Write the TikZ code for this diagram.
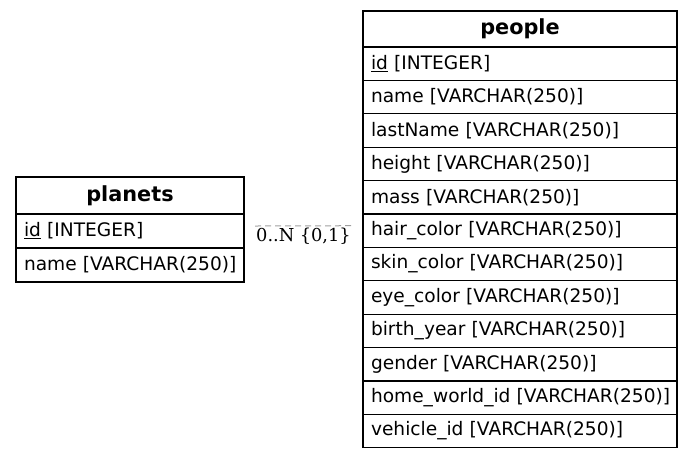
\documentclass[tikz,border=0pt]{standalone}
\usepackage{fontspec}
\setmainfont{DejaVu Sans}
\newfontfamily\cardfont{DejaVu Serif}
\usetikzlibrary{positioning}

\begin{document}
\begin{tikzpicture}[x=1pt,y=-1pt]
    \tikzset{tblhead/.style = {draw, line width=1.1pt, minimum height=#1, inner sep=0pt, outer sep=0pt,
            font=\fontsize{20.8}{22}\selectfont\bfseries}}
    \tikzset{tblrow/.style = {draw, line width=1.1pt, text width=#1, inner xsep=8pt, inner ysep=0pt,
            outer sep=0pt, align=left, font=\fontsize{18.6}{20}\selectfont,
            execute at begin node={\hbox\bgroup}, execute at end node={\egroup}}}
    \tikzset{card/.style = {inner sep=0pt, font=\cardfont\fontsize{17.8}{19}\selectfont}}

    \useasboundingbox (0,0) rectangle (692,459);

    % planets table
    \node[tblhead=37pt, minimum width=228pt, anchor=north west] (planets) at (16,177) {planets};
    \node[tblrow=212pt, minimum height=34pt, below=0pt of planets] (planets-id) {\underline{id} [INTEGER]};
    \node[tblrow=212pt, minimum height=34pt, below=0pt of planets-id] (planets-name) {name [VARCHAR(250)]};

    % people table
    \node[tblhead=36pt, minimum width=314pt, anchor=north west] (people) at (363,11) {people};
    \tikzset{prow/.style = {tblrow=298pt, minimum height=33.4pt}}
    \node[prow, below=0pt of people] (people-id) {\underline{id} [INTEGER]};
    \node[prow, below=0pt of people-id] (people-name) {name [VARCHAR(250)]};
    \node[prow, below=0pt of people-name] (people-lastname) {lastName [VARCHAR(250)]};
    \node[prow, below=0pt of people-lastname] (people-height) {height [VARCHAR(250)]};
    \node[prow, below=0pt of people-height] (people-mass) {mass [VARCHAR(250)]};
    \node[prow, below=0pt of people-mass] (people-hair) {hair\_color [VARCHAR(250)]};
    \node[prow, below=0pt of people-hair] (people-skin) {skin\_color [VARCHAR(250)]};
    \node[prow, below=0pt of people-skin] (people-eye) {eye\_color [VARCHAR(250)]};
    \node[prow, below=0pt of people-eye] (people-birth) {birth\_year [VARCHAR(250)]};
    \node[prow, below=0pt of people-birth] (people-gender) {gender [VARCHAR(250)]};
    \node[prow, below=0pt of people-gender] (people-home) {home\_world\_id [VARCHAR(250)]};
    \node[prow, below=0pt of people-home] (people-vehicle) {vehicle\_id [VARCHAR(250)]};

    % relation
    \coordinate (rel-a) at ([xshift=11pt,yshift=5pt]planets-id.east);
    \coordinate (rel-b) at ([xshift=-11pt,yshift=5pt]people-hair.west);
    \draw[gray!75, line width=1pt, dash pattern=on 6pt off 4pt] (rel-a) -- (rel-b);
    \node[card, anchor=north west] (card-a) at ([xshift=1pt,yshift=-2pt]rel-a) {0..N};
    \node[card, anchor=north east] (card-b) at ([xshift=-1pt,yshift=-2pt]rel-b) {\{0,1\}};

\end{tikzpicture}
\end{document}
